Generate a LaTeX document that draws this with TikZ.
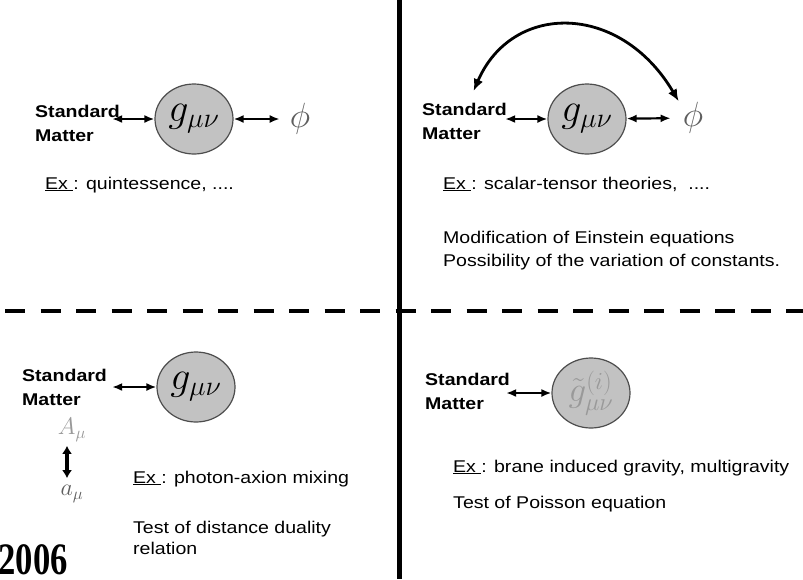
\RequirePackage{fix-cm}
\documentclass[tikz,border=0pt]{standalone}
\usepackage[no-math]{fontspec}
\setmainfont{Liberation Sans}[FakeStretch=1.15]
\newfontfamily\yearfont{Liberation Serif}[FakeStretch=0.77]
\usetikzlibrary{shapes.geometric,arrows.meta,positioning}
\definecolor{diskgray}{HTML}{C2C2C2}
\definecolor{rimgray}{HTML}{4D4D4D}
\definecolor{fieldgray}{HTML}{5E5E5E}
\definecolor{palegray}{HTML}{999999}

\begin{document}
\begin{tikzpicture}[x=1pt, y=-1pt,
  lbl/.style={font=\fontsize{17}{24}\selectfont\bfseries, align=left, inner sep=0pt, anchor=north west},
  txt/.style={font=\fontsize{17}{24}\selectfont, align=left, inner sep=0pt, anchor=base west},
  disk/.style={ellipse, draw=rimgray, line width=1.2pt, fill=diskgray, minimum width=78pt, minimum height=70pt, inner sep=0pt, font=\fontsize{40}{42}\selectfont},
  fld/.style={text=fieldgray, inner sep=1pt, font=\fontsize{35}{37}\selectfont},
  vec/.style={inner sep=1pt, font=\fontsize{24}{26}\selectfont},
  link/.style={{Latex[length=10pt,width=8pt]}-{Latex[length=10pt,width=8pt]}, line width=2.2pt},
  swing/.style={{Latex[length=12pt,width=10pt]}-{Latex[length=12pt,width=10pt]}, line width=2.8pt},
  mix/.style={{Latex[length=8pt,width=10pt]}-{Latex[length=8pt,width=10pt]}, line width=3.5pt}
]
  \useasboundingbox (0,0) rectangle (803,579);
  % frame
  \draw[line width=5pt] (399,0) -- (399,579);
  \draw[line width=4.5pt, dash pattern=on 20pt off 15.5pt] (5,311) -- (803,311);
  % top left
  \node[lbl] (smTL) at (35,105) {Standard\\Matter};
  \node[disk] (gTL) at (194,119) {$g_{\mu\nu}$};
  \node[fld] (phiTL) at (300,119) {$\phi$};
  \draw[link, shorten <=-8pt] (smTL.east |- gTL) -- (gTL);
  \draw[link, shorten >=9pt] (gTL) -- (phiTL);
  \node[txt] (exTL) at (45,189) {\underline{Ex\ }: quintessence, ....};
  % top right
  \node[lbl] (smTR) at (422,103) {Standard\\Matter};
  \node[disk] (gTR) at (587,119) {$g_{\mu\nu}$};
  \node[fld] (phiTR) at (693,118) {$\phi$};
  \draw[link, shorten <=-2pt] (smTR.east |- gTR) -- (gTR);
  \draw[link, shorten >=11pt] (gTR) -- (phiTR);
  \draw[swing] ([xshift=9pt,yshift=12pt]smTR.north) .. controls (512,2) and (620,2) .. ([xshift=-3pt]phiTR.north west);
  \node[txt] (exTR) at (443,189) {\underline{Ex\ }: scalar-tensor theories,\ \ ....};
  \node[txt, anchor=north west] (modTR) at (443,231) {Modification of Einstein equations\\[-1pt]Possibility of the variation of constants.};
  % bottom left
  \node[lbl] (smBL) at (22,369) {Standard\\Matter};
  \node[disk] (gBL) at (196,387) {$g_{\mu\nu}$};
  \draw[link, shorten <=5pt] (smBL.east |- gBL) -- (gBL);
  \node[vec, text=palegray] (ABL) at (72,430) {$A_\mu$};
  \node[vec, text=fieldgray] (aBL) at (72,494) {$a_\mu$};
  \draw[mix, shorten <=3pt, shorten >=6pt] ([xshift=-5pt]ABL.south) -- ([xshift=-5pt]aBL.north);
  \node[txt] (exBL) at (133,483) {\underline{Ex\ }: photon-axion mixing};
  \node[txt, anchor=north west] (testBL) at (133,521) {Test of distance duality\\[-3pt]relation};
  \node[font=\yearfont\bfseries\fontsize{45}{47}\selectfont, inner sep=0pt, anchor=base east] (year) at (68,574) {2006};
  % bottom right
  \node[lbl] (smBR) at (425,373) {Standard\\Matter};
  \node[disk, text=palegray, font=\fontsize{35}{37}\selectfont] (gBR) at (591,393) {$\tilde{g}^{(i)}_{\mu\nu}$};
  \draw[link, shorten <=-4pt] (smBR.east |- gBR) -- (gBR);
  \node[txt] (exBR) at (453,472) {\underline{Ex\ }: brane induced gravity, multigravity};
  \node[txt] (testBR) at (453,508) {Test of Poisson equation};
\end{tikzpicture}
\end{document}
